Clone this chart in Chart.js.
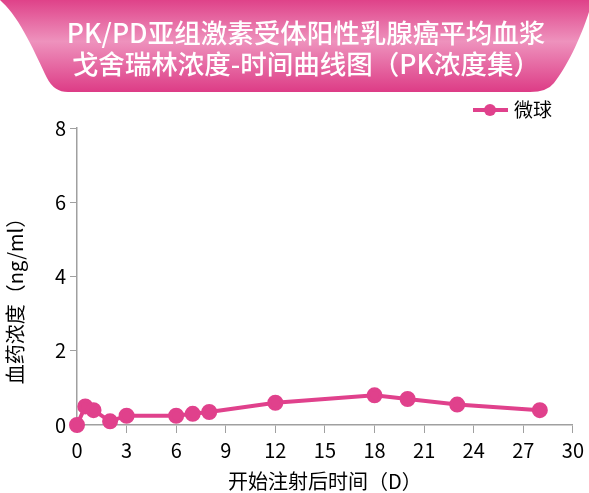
<!DOCTYPE html>
<html lang="zh">
<head>
  <meta charset="UTF-8" />
  <title>PK浓度曲线</title>
  <script src="https://cdn.jsdelivr.net/npm/chart.js"></script>
  <style>
    body {
      margin: 0;
      background: white;
      font-family: 'Noto Sans CJK SC', sans-serif;
    }
    .wrap {
      position: relative;
      width: 589px;
      height: 493px;
    }
    #banner {
      position: absolute;
      left: 0;
      top: 0;
    }
    .title {
      position: absolute;
      left: 0;
      top: 16px;
      width: 612px;
      text-align: center;
      color: white;
      font-size: 26.5px;
      font-weight: 500;
      line-height: 31px;
      white-space: nowrap;
    }
    canvas {
      position: absolute;
      left: 0;
      top: 0;
    }
  </style>
</head>
<body>
  <div class="wrap">
    <canvas id="pkChart" width="589" height="493"></canvas>
    <svg id="banner" width="589" height="95">
      <defs>
        <linearGradient id="pinkGrad" x1="0" y1="0" x2="0" y2="1">
          <stop offset="0" stop-color="#df4289"/>
          <stop offset="0.45" stop-color="#ee92bd"/>
          <stop offset="1" stop-color="#dd3c86"/>
        </linearGradient>
      </defs>
      <path d="M0,0 L589,0 L589,12 C580,40 566,68 554,83 Q547,92 530,92 L68,92 Q54,92 47,78 C36,55 20,18 2,2 Z" fill="url(#pinkGrad)"/>
    </svg>
    <div class="title">PK/PD亚组激素受体阳性乳腺癌平均血浆<br>戈舍瑞林浓度-时间曲线图（PK浓度集）</div>
  </div>

  <script>
    // 数据
    const days = [0, 0.5, 1, 2, 3, 6, 7, 8, 12, 18, 20, 23, 28];
    const conc = [0, 0.5, 0.4, 0.1, 0.25, 0.25, 0.3, 0.35, 0.6, 0.8, 0.7, 0.55, 0.4];
    const seriesName = '微球';
    const xTitle = '开始注射后时间（D）';
    const yTitle = '血药浓度（ng/ml）';
    const xMax = 30, xStep = 3;
    const yMax = 8, yStep = 2;

    const pink = '#e0418c';
    const axisGray = '#a0a0a0';
    const fontFam = "'Noto Sans CJK SC', sans-serif";

    // 图例 + 纵轴标题
    const extras = {
      id: 'extras',
      afterDraw(chart) {
        const c = chart.ctx;
        c.save();
        // legend
        c.strokeStyle = pink;
        c.lineWidth = 4;
        c.beginPath();
        c.moveTo(473, 110);
        c.lineTo(508, 110);
        c.stroke();
        c.fillStyle = pink;
        c.beginPath();
        c.arc(490, 110, 6, 0, Math.PI * 2);
        c.fill();
        c.fillStyle = '#000';
        c.font = '19px ' + fontFam;
        c.textBaseline = 'middle';
        c.fillText(chart.data.datasets[0].label, 514, 110);
        // y title
        c.font = '20px ' + fontFam;
        c.translate(15, 296);
        c.rotate(-Math.PI / 2);
        c.textAlign = 'center';
        c.fillText(yTitle, 0, 0);
        c.restore();
      }
    };

    new Chart(document.getElementById('pkChart'), {
      type: 'line',
      data: {
        datasets: [{
          label: seriesName,
          data: days.map((d, i) => ({ x: d, y: conc[i] })),
          borderColor: pink,
          backgroundColor: pink,
          borderWidth: 4,
          pointRadius: 6,
          pointHoverRadius: 6,
          tension: 0,
          clip: false
        }]
      },
      options: {
        responsive: false,
        animation: false,
        layout: { padding: { top: 128, right: 15, left: 0, bottom: 0 } },
        plugins: {
          legend: { display: false },
          tooltip: { enabled: false }
        },
        scales: {
          x: {
            type: 'linear',
            min: 0,
            max: xMax,
            afterFit(s) { s.height = 68; },
            ticks: {
              stepSize: xStep,
              color: '#000',
              padding: 5,
              font: { family: fontFam, size: 20 }
            },
            grid: { drawOnChartArea: false, drawTicks: true, tickLength: 8, color: axisGray },
            border: { color: axisGray, width: 1.5 },
            title: {
              display: true,
              text: xTitle,
              color: '#000',
              padding: { top: 0, bottom: 0 },
              font: { family: fontFam, size: 20 }
            }
          },
          y: {
            min: 0,
            max: yMax,
            afterFit(s) { s.width = 77; },
            ticks: {
              stepSize: yStep,
              color: '#000',
              padding: 4,
              font: { family: fontFam, size: 20 }
            },
            grid: { drawOnChartArea: false, drawTicks: true, tickLength: 7, color: axisGray },
            border: { color: axisGray, width: 1.5 }
          }
        }
      },
      plugins: [extras]
    });
  </script>
</body>
</html>
